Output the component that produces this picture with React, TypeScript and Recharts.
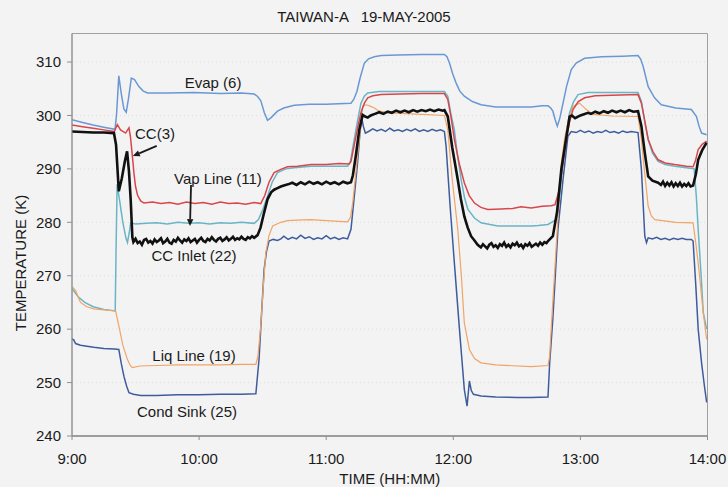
import {
  LineChart,
  Line,
  XAxis,
  YAxis,
  CartesianGrid,
  ReferenceArea,
  ReferenceDot,
  ReferenceLine,
  Label,
} from "recharts";

// time in minutes after 9:00, temperature in K
type Pt = [number, number];

const hourTicks = [0, 60, 120, 180, 240, 300];
const hourLabels = ["9:00", "10:00", "11:00", "12:00", "13:00", "14:00"];
const tempTicks = [240, 250, 260, 270, 280, 290, 300, 310];
const tempTop = 315.34;

const evap: Pt[] = [
  [0, 299.2], [5, 298.7], [10, 298.2], [15, 297.8], [20.3, 297.4], [21, 300], [22.1, 307.4],
  [23.3, 304], [24.5, 301.2], [25.6, 300.6], [26.6, 303], [28, 307.0], [29.5, 306.7],
  [31.6, 305.4], [33.5, 304.6], [35.6, 304.2], [45, 304.2], [57.6, 304.3], [70, 304.1],
  [80, 304.2], [86, 304.0], [87.5, 303.6], [89.1, 302.8], [90.8, 300.5], [92.3, 299.1],
  [94, 299.6], [97, 300.8], [100, 301.4], [104.9, 301.9], [112, 302.1], [120, 302.1],
  [131.7, 302.3], [133, 303], [134.5, 304.5], [136, 307], [138, 309.8], [140, 310.6],
  [142.7, 311.0], [146, 311.2], [153.8, 311.3], [165, 311.4], [175.8, 311.4], [177, 311],
  [178.2, 309.8], [179.7, 307.8], [181.3, 306.1], [183, 304.6], [185.2, 303.6], [189, 302.6],
  [193.1, 302.0], [200, 301.6], [210, 301.6], [216.8, 301.6], [222, 301.8], [224.7, 301.8],
  [226, 301.4], [227, 300.8], [228.1, 299.2], [229.1, 298.0], [230.3, 299.5], [231.8, 302.3],
  [233.5, 305.5], [235.7, 308.6], [238, 309.8], [242, 310.7], [250, 311.0], [260, 311.1],
  [267.2, 311.2], [268.5, 310.5], [269.6, 309.2], [272, 305.4], [275, 303.3], [278.2, 302.0],
  [285, 301.4], [292.4, 301.1], [294.8, 299.8], [296, 298], [297.2, 296.7], [299.6, 296.4],
];

const ccPump: Pt[] = [
  [0, 298.2], [5, 297.9], [10, 297.6], [15, 297.3], [20, 297.0], [21.4, 298.3], [22.9, 297.3],
  [25.3, 296.7], [26.9, 297.7], [27.6, 296], [28.5, 292.4], [29.3, 289], [30, 286.7],
  [31, 285], [32.4, 284.0], [34, 283.6], [38, 283.8], [42, 283.5], [46, 283.7], [50, 283.4],
  [54, 283.8], [58, 283.5], [62, 283.7], [66, 283.4], [70, 283.8], [74, 283.5], [78, 283.6],
  [82, 283.4], [86, 283.7], [89.1, 283.5], [91, 285], [93, 287.5], [95.4, 289.3],
  [98.6, 289.9], [101.7, 290.4], [106.5, 290.5], [112.8, 290.8], [120, 290.8], [126, 291.0],
  [130.9, 290.9], [131.7, 291.4], [133.5, 295], [135, 298], [136.4, 300.5], [138, 302.3],
  [139.6, 303.3], [142, 303.7], [145.9, 303.9], [155, 304.0], [165, 304.1], [175.8, 304.1],
  [177.4, 303.0], [179, 299.5], [180.5, 295.5], [182.8, 291], [185.2, 287.4], [187.5, 285],
  [190, 283.6], [193, 282.8], [196.3, 282.4], [202.6, 282.5], [208, 282.6], [212, 282.9],
  [216.8, 282.7], [222, 283.0], [226.2, 283.1], [228, 283.3], [230, 286], [233.3, 295.5],
  [234.9, 298.8], [236.5, 301.1], [239, 302.6], [242, 303.3], [247, 303.7], [255, 303.8],
  [267.2, 303.9], [268.8, 302.3], [270.4, 299], [272, 295.5], [274.3, 293.2], [276.7, 291.7],
  [280, 291.1], [284.5, 290.8], [290, 290.5], [293.2, 290.4], [294.3, 291.5], [295.6, 293.6],
  [297.5, 294.6], [299.6, 295.2],
];

const vapLine: Pt[] = [
  [0, 267.6], [3, 266.0], [6, 265.0], [10, 264.2], [15, 263.7], [20.4, 263.4], [20.8, 275],
  [21.3, 287.1], [22.5, 284], [24, 280], [25.5, 277], [26.2, 276.2], [27, 278], [27.7, 279.9],
  [30, 279.7], [35, 279.8], [40, 279.9], [45, 279.7], [50, 280.0], [55, 279.8], [60, 279.9],
  [65, 279.7], [70, 279.9], [75, 279.8], [80, 280.0], [86, 279.8], [88, 280.5], [90, 282.3],
  [92.3, 284.9], [94.5, 287.5], [97, 289.3], [101, 290.0], [104.9, 290.2], [112.8, 290.5],
  [120, 290.5], [130.1, 290.5], [131.5, 291.5], [133, 295], [134.8, 299], [136.4, 302.3],
  [138, 303.6], [139.6, 304.2], [145, 304.5], [160, 304.5], [175.8, 304.5], [177.4, 303.6],
  [179, 300], [180.5, 297.3], [182, 292.5], [183.7, 288.0], [185.3, 284.6], [186.9, 282.4],
  [190, 280.8], [193.1, 279.9], [201, 279.3], [210, 279.3], [216.8, 279.3], [220, 279.4],
  [224.7, 279.6], [228.6, 280.5], [230, 284], [231.8, 291.1], [233.5, 297], [234.9, 300.5],
  [236.8, 302.6], [238.9, 303.9], [243.6, 304.3], [255, 304.3], [267.2, 304.3], [268.8, 302.6],
  [270.5, 298.5], [272, 295.5], [274, 293], [276.7, 291.4], [280, 290.8], [284.5, 290.5],
  [290, 290.2], [293.7, 290.0], [294.7, 285], [295.6, 278.7], [297, 270], [298, 263.1],
  [299.6, 260.0],
];

const ccInlet: Pt[] = [
  [0, 297.0], [5, 296.9], [10, 296.8], [15, 296.8], [19.8, 296.7], [20.8, 294.5], [22.1, 285.8],
  [23.5, 288.2], [25, 291.5], [26.0, 293.3], [26.9, 289.5], [27.7, 284.3], [28.5, 277.2],
  [29, 276.3], [30, 276.9], [31, 276.1], [32, 276.4], [33, 275.8], [34, 276.7], [35, 276.9],
  [36, 276.2], [37, 276.5], [38, 276.0], [39, 276.8], [40, 276.3], [41, 276.6], [42, 277.0],
  [43, 276.1], [44, 276.4], [45, 276.9], [46, 276.2], [47, 276.0], [48, 276.7], [49, 276.4],
  [50, 277.1], [51, 276.6], [52, 276.2], [53, 276.8], [54, 276.5], [55, 277.0], [56, 276.3],
  [57, 276.6], [58, 276.9], [59, 276.2], [60, 276.7], [61, 277.1], [62, 276.5], [63, 276.3],
  [64, 276.9], [65, 276.6], [66, 277.2], [67, 276.7], [68, 276.4], [69, 276.9], [70, 277.1],
  [71, 276.5], [72, 276.8], [73, 277.2], [74, 276.6], [75, 276.9], [76, 277.3], [77, 276.7],
  [78, 277.0], [79, 276.8], [80, 277.3], [81, 276.9], [82, 276.7], [83, 277.2], [84, 277.0],
  [85, 277.4], [86, 277.1], [87.6, 277.6], [89, 279.0], [90.5, 281.5], [92.3, 284.3],
  [94, 285.6], [95.4, 286.1], [97, 286.4], [98.6, 286.7], [100, 286.9], [102, 287.1],
  [104, 287.4], [106, 287.0], [108, 287.5], [110, 287.1], [112, 287.6], [114, 287.2],
  [116, 287.5], [118, 287.1], [120, 287.6], [122, 287.2], [124, 287.5], [126, 287.1],
  [128, 287.6], [130, 287.3], [131.7, 287.5], [132.6, 288.8], [134, 292.5], [135.6, 297.3],
  [137.2, 300.1], [138.4, 299.8], [139.6, 299.6], [141, 300.0], [143, 300.3], [145, 300.6],
  [147, 300.3], [149, 300.7], [151, 300.5], [153, 300.9], [155, 300.6], [157, 300.9],
  [159, 300.6], [161, 301.0], [163, 300.7], [165, 301.0], [167, 300.8], [169, 301.1],
  [171, 300.8], [173, 301.1], [175, 300.9], [175.8, 301.0], [177.4, 299.8], [179.5, 294],
  [182.1, 288.0], [183.5, 284.5], [185.2, 281.1], [186.8, 279], [188.4, 277.4], [190, 276.6],
  [191.5, 275.8], [193, 275.3], [194, 275.9], [195, 275.5], [196, 275.1], [197, 275.8],
  [198, 276.1], [199, 275.4], [200, 275.7], [201, 275.2], [202, 275.9], [203, 275.6],
  [204, 276.2], [205, 275.4], [206, 275.8], [207, 275.3], [208, 276.0], [209, 275.7],
  [210, 276.2], [211, 275.5], [212, 275.8], [213, 275.2], [214, 275.9], [215, 275.6],
  [216, 276.1], [217, 275.4], [218, 275.7], [219, 276.0], [220, 275.6], [221, 276.2],
  [222, 275.8], [223, 276.3], [224, 276.1], [224.7, 276.5], [227, 277.4], [229, 282],
  [231, 289.9], [233, 295], [234.9, 299.8], [236, 300.0], [237.5, 299.5], [240, 300.0],
  [243.6, 300.5], [245, 300.3], [247, 300.7], [249, 300.4], [251, 300.8], [253, 300.5],
  [255, 300.9], [257, 300.6], [259, 300.9], [261, 300.6], [263, 301.0], [265, 300.7],
  [267.2, 300.8], [268.8, 298.0], [270.4, 293.0], [272, 288.6], [274, 287.8], [276.7, 287.4],
  [278, 287.0], [279, 287.6], [280, 286.8], [281, 287.4], [282, 286.9], [283, 287.5],
  [284, 286.7], [285, 287.3], [286, 286.8], [287, 287.4], [288, 286.7], [289, 287.2],
  [290, 286.8], [291, 287.3], [292, 286.7], [293.2, 286.9], [294.5, 289], [295.6, 291.7],
  [297.5, 293.5], [299.6, 294.9],
];

const liqLine: Pt[] = [
  [0, 268.0], [1.7, 267.2], [4, 265.0], [7, 264.2], [10.3, 263.8], [15, 263.6], [20.6, 263.4],
  [22.1, 260.6], [24, 257], [26.1, 254.4], [27.5, 253.2], [28.5, 252.8], [32, 253.1],
  [40, 253.2], [50, 253.3], [60, 253.3], [70, 253.3], [80, 253.4], [86.8, 253.4], [87.8, 255],
  [89.1, 260.6], [90.3, 268], [91.5, 274.3], [93, 277.5], [94.7, 279.3], [98.6, 280.0],
  [101.7, 280.3], [106, 280.4], [112.8, 280.5], [120, 280.3], [130.1, 280.1], [131.5, 281],
  [132.5, 283.6], [134.8, 292.4], [137.2, 301.7], [138.8, 302.0], [140.5, 301.8],
  [142.7, 301.4], [145, 300.8], [150.6, 300.5], [160, 300.3], [175.8, 300.0], [177.4, 297.3],
  [179.5, 288], [182.1, 278.7], [183.8, 270], [185.2, 261.2], [187.6, 256.2], [190, 254.5],
  [193.1, 253.7], [200, 253.3], [216.8, 253.0], [224.7, 253.2], [225.5, 255], [226.2, 260.0],
  [228.5, 275], [231, 291.1], [232.6, 295.8], [234.1, 298.6], [236.5, 301.7], [239.6, 302.3],
  [242.8, 301.1], [246, 300.2], [255, 299.9], [267.2, 299.8], [268.8, 295.5], [270.4, 289],
  [272, 283.0], [273.5, 281.2], [275.1, 280.5], [285, 280.0], [293.2, 279.9], [294.5, 276],
  [295.6, 272.4], [298, 263.1], [299.6, 258.1],
];

const condSink: Pt[] = [
  [0, 258.2], [0.8, 258.0], [1.7, 257.3], [4, 257.0], [7, 256.8], [10.3, 256.6], [15, 256.4],
  [20, 256.3], [22.1, 256.2], [23.3, 253.5], [24.5, 251.2], [25.8, 249.3], [26.9, 248.1],
  [29, 247.8], [32.4, 247.6], [40, 247.6], [50, 247.7], [60, 247.7], [70, 247.8], [80, 247.8],
  [86.8, 247.9], [88.3, 254.4], [89.5, 263], [90.7, 271.2], [91.8, 274.5], [93, 276.5],
  [95, 276.8], [97, 276.6], [98.6, 276.9], [100, 277.4], [102, 276.8], [104, 277.2],
  [106, 276.9], [108, 277.6], [110, 277.0], [112, 277.3], [114, 276.8], [116, 277.1],
  [118, 276.9], [120, 277.5], [122, 276.9], [124, 277.2], [126, 276.8], [128, 277.1],
  [130.1, 276.9], [131.7, 278.7], [133.3, 285], [134.8, 291.1], [136, 297], [136.8, 299.5],
  [137.5, 298], [138.5, 296.7], [140, 297.0], [142, 297.5], [144, 297.1], [146, 297.4],
  [148, 297.0], [150, 297.6], [152, 297.1], [154, 297.3], [156, 297.0], [158, 297.4],
  [160, 297.1], [162, 297.5], [164, 297.0], [166, 297.3], [168, 297.0], [170, 297.4],
  [172, 297.1], [174, 297.3], [175.8, 297.0], [176.6, 294.2], [178.5, 283], [180.5, 272.4],
  [182.9, 260], [185.2, 248.7], [186.5, 245.6], [187.6, 250.3], [188.5, 248.5], [189.5, 247.8],
  [193.1, 247.5], [200, 247.3], [210, 247.2], [216.8, 247.2], [224.7, 247.3], [225.5, 253.7],
  [227, 262], [229.4, 278.7], [231.8, 288], [234.1, 296.1], [235.7, 297.0], [238, 296.8],
  [240, 297.2], [242, 296.8], [244, 297.1], [246, 296.7], [248, 297.0], [250, 296.8],
  [252, 297.2], [254, 296.8], [256, 297.0], [258, 296.7], [260, 297.1], [262, 296.8],
  [264, 297.0], [267.2, 296.8], [268.8, 289.9], [270.4, 277.4], [271.2, 276.2], [272, 277.1],
  [274, 276.9], [276, 277.2], [278, 276.8], [280, 277.0], [282, 276.7], [284, 277.0],
  [286, 276.8], [288, 277.0], [290, 276.8], [292.4, 276.8], [293.2, 276.5], [294.5, 268],
  [295.6, 260.0], [297.2, 253.7], [298.5, 249.5], [299.6, 246.3],
];

// curve name tags, placed at (minute, K)
const tags = [
  { text: "Evap (6)", t: 66.6, v: 306.1 },
  { text: "CC(3)", t: 39.2, v: 296.6 },
  { text: "Vap Line (11)", t: 68.9, v: 288.1 },
  { text: "CC Inlet (22)", t: 57.6, v: 273.7 },
  { text: "Liq Line (19)", t: 57.6, v: 255.0 },
  { text: "Cond Sink (25)", t: 54.3, v: 244.6 },
];

const arrows = [
  { from: { t: 40.0, v: 294.3 }, to: { t: 28.7, v: 292.4 } },
  { from: { t: 56.2, v: 287.0 }, to: { t: 55.7, v: 279.3 } },
];

const toRows = (pts: Pt[]) => pts.map(([t, v]) => ({ t, v }));

const FONT = "'Liberation Sans', Arial, Helvetica, sans-serif";
const INK = "#1a1a1a";

const series = [
  { name: "Evap (6)", pts: evap, color: "#6a98d4", width: 1.5 },
  { name: "Cond Sink (25)", pts: condSink, color: "#3e5c9c", width: 1.5 },
  { name: "Vap Line (11)", pts: vapLine, color: "#6ab4c6", width: 1.5 },
  { name: "Liq Line (19)", pts: liqLine, color: "#f0a466", width: 1.2 },
  { name: "CC(3)", pts: ccPump, color: "#d8464b", width: 1.5 },
  { name: "CC Inlet (22)", pts: ccInlet, color: "#111111", width: 2.6 },
];

function Arrow(props: any) {
  const { x1, y1, x2, y2 } = props;
  const ang = Math.atan2(y2 - y1, x2 - x1);
  const len = 7;
  const half = 3.2;
  const bx = x2 - len * Math.cos(ang);
  const by = y2 - len * Math.sin(ang);
  const nx = -Math.sin(ang) * half;
  const ny = Math.cos(ang) * half;
  return (
    <g>
      <line x1={x1} y1={y1} x2={bx} y2={by} stroke={INK} strokeWidth={1.8} />
      <polygon
        points={`${x2},${y2} ${bx + nx},${by + ny} ${bx - nx},${by - ny}`}
        fill={INK}
      />
    </g>
  );
}

const YTitle = () => (
  <text
    x={20}
    y={263}
    transform="rotate(-90, 20, 263)"
    textAnchor="middle"
    dominantBaseline="central"
    fill={INK}
    fontSize={15}
  >
    TEMPERATURE (K)
  </text>
);

export default function App() {
  return (
    <div
      style={{
        position: "absolute",
        left: 0,
        top: 0,
        width: 728,
        height: 487,
        background: "#f3f3f3",
        fontFamily: FONT,
      }}
    >
      <div
        style={{
          position: "absolute",
          top: 8,
          left: 0,
          width: 728,
          textAlign: "center",
          fontSize: 15,
          color: INK,
          whiteSpace: "pre",
        }}
      >
        {"TAIWAN-A   19-MAY-2005"}
      </div>
      <LineChart
        width={728}
        height={487}
        margin={{ top: 33.5, right: 20.5, bottom: 0, left: 0 }}
        style={{ fontFamily: FONT }}
      >
        <CartesianGrid
          horizontal
          vertical={false}
          stroke="#dedede"
          strokeDasharray="1 3"
        />
        <XAxis
          type="number"
          dataKey="t"
          domain={[0, 300]}
          allowDataOverflow
          ticks={hourTicks}
          tickFormatter={(m: number) => hourLabels[hourTicks.indexOf(m)]}
          tickSize={4}
          tickMargin={13}
          height={51}
          axisLine={{ stroke: "#8e8e8e", strokeWidth: 1.6 }}
          tickLine={{ stroke: "#8e8e8e" }}
          tick={{ fill: INK, fontSize: 15 }}
        >
          <Label
            value="TIME (HH:MM)"
            position="insideBottom"
            offset={3}
            fill={INK}
            fontSize={15}
          />
        </XAxis>
        <YAxis
          type="number"
          domain={[240, tempTop]}
          allowDataOverflow
          ticks={tempTicks}
          width={72}
          tickSize={5}
          tickMargin={6}
          axisLine={{ stroke: "#8e8e8e" }}
          tickLine={{ stroke: "#8e8e8e" }}
          tick={{ fill: INK, fontSize: 15 }}
        >
          <Label content={<YTitle />} />
        </YAxis>
        <ReferenceArea
          x1={0}
          x2={300}
          y1={240}
          y2={tempTop}
          fill="none"
          stroke="#a0a0a0"
          strokeWidth={1}
        />
        {series.map((s) => (
          <Line
            key={s.name}
            name={s.name}
            data={toRows(s.pts)}
            dataKey="v"
            type="linear"
            stroke={s.color}
            strokeWidth={s.width}
            dot={false}
            activeDot={false}
            isAnimationActive={false}
          />
        ))}
        {tags.map((g) => (
          <ReferenceDot
            key={g.text}
            x={g.t}
            y={g.v}
            r={1}
            fill="none"
            stroke="none"
            label={{
              value: g.text,
              position: "center",
              fill: INK,
              fontSize: 15,
            }}
          />
        ))}
        {arrows.map((a, i) => (
          <ReferenceLine
            key={i}
            segment={[
              { x: a.from.t, y: a.from.v },
              { x: a.to.t, y: a.to.v },
            ]}
            shape={(p: any) => <Arrow {...p} />}
          />
        ))}
      </LineChart>
    </div>
  );
}
